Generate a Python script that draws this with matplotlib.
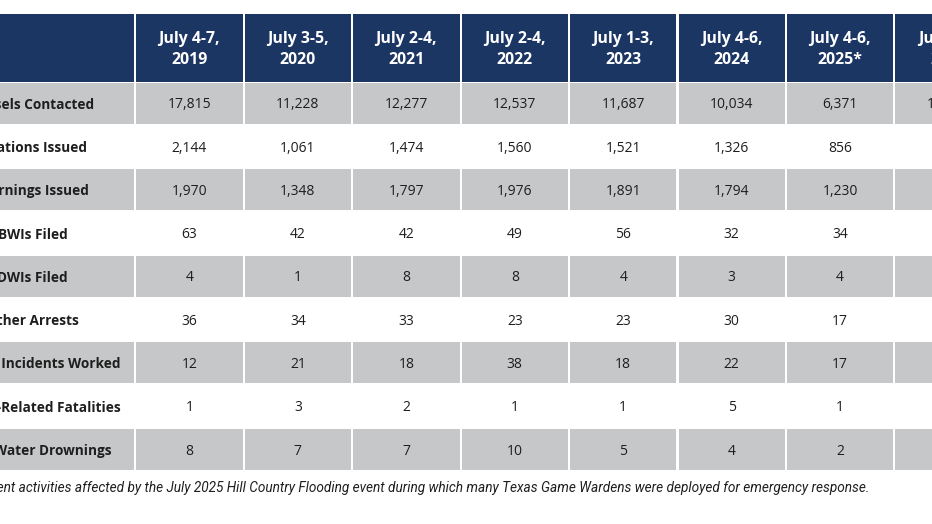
import matplotlib
matplotlib.use("Agg")
import matplotlib.pyplot as plt
from matplotlib.patches import Rectangle

# ---- data ----
periods = ["July 4-7,\n2019", "July 3-5,\n2020", "July 2-4,\n2021", "July 2-4,\n2022",
           "July 1-3,\n2023", "July 4-6,\n2024", "July 4-6,\n2025*", "July 4-6,\n2026"]
metrics = ["Vessels Contacted", "Citations Issued", "Warnings Issued", "BWIs Filed",
           "DWIs Filed", "Other Arrests", "Boating Incidents Worked",
           "Boating-Related Fatalities", "Open Water Drownings"]
vessels = [17815, 11228, 12277, 12537, 11687, 10034, 6371, 10500]
citations = [2144, 1061, 1474, 1560, 1521, 1326, 856, 1200]
warnings_ = [1970, 1348, 1797, 1976, 1891, 1794, 1230, 1500]
bwis = [63, 42, 42, 49, 56, 32, 34, 40]
dwis = [4, 1, 8, 8, 4, 3, 4, 4]
other_arrests = [36, 34, 33, 23, 23, 30, 17, 25]
incidents = [12, 21, 18, 38, 18, 22, 17, 20]
fatalities = [1, 3, 2, 1, 1, 5, 1, 2]
drownings = [8, 7, 7, 10, 5, 4, 2, 5]
rows = [vessels, citations, warnings_, bwis, dwis, other_arrests, incidents, fatalities, drownings]
footnote = ("*Enforcement activities affected by the July 2025 Hill Country Flooding event "
            "during which many Texas Game Wardens were deployed for emergency response.")

# ---- style ----
NAVY = "#1c3664"
GRAY = "#c6c7c9"
TXT = "#1e1e1e"
plt.rcParams['font.family'] = ['Open Sans', 'DejaVu Sans']

fig = plt.figure(figsize=(9.32, 5.24), dpi=100)
ax = fig.add_axes([0, 0, 1, 1])
ax.set_xlim(0, 932)
ax.set_ylim(524, 0)
ax.axis("off")

first_left, first_right = -68, 134.2
col_pitch, col_w, col0 = 108.46, 106.4, 136.2
head_top, head_bot = 14, 81.5
row_top0, row_pitch, row_h = 82.7, 43.3, 41.0
label_cx = 32.5

def col_span(j):
    if j == 0:
        return first_left, first_right
    x0 = col0 + col_pitch * (j - 1)
    return x0, x0 + col_w

ncols = len(periods) + 1
# header
for j in range(ncols):
    x0, x1 = col_span(j)
    ax.add_patch(Rectangle((x0, head_top), x1 - x0, head_bot - head_top,
                           facecolor=NAVY, edgecolor="none", clip_on=False))
    if j > 0:
        ax.text((x0 + x1) / 2, (head_top + head_bot) / 2 + 2, periods[j - 1],
                ha="center", va="center", color="white", fontsize=11.4,
                fontweight="bold", linespacing=1.38, clip_on=False)

# body
for i, (name, vals) in enumerate(zip(metrics, rows)):
    top = row_top0 + row_pitch * i
    cy = top + row_h / 2 + 1.5
    for j in range(ncols):
        x0, x1 = col_span(j)
        if i % 2 == 0:
            ax.add_patch(Rectangle((x0, top), x1 - x0, row_h,
                                   facecolor=GRAY, edgecolor="none", clip_on=False))
        if j == 0:
            ax.text(label_cx, cy, name, ha="center", va="center", color=TXT,
                    fontsize=9.8, fontweight="bold", clip_on=False)
        else:
            ax.text((x0 + x1) / 2, cy, f"{vals[j - 1]:,}", ha="center", va="center",
                    color=TXT, fontsize=10, clip_on=False)

ax.text(869, 488, footnote, ha="right", va="center", color=TXT, fontsize=9.85,
        style="italic", family=['Roboto', 'DejaVu Sans'], clip_on=False)

fig.savefig("out.png", dpi=100)
